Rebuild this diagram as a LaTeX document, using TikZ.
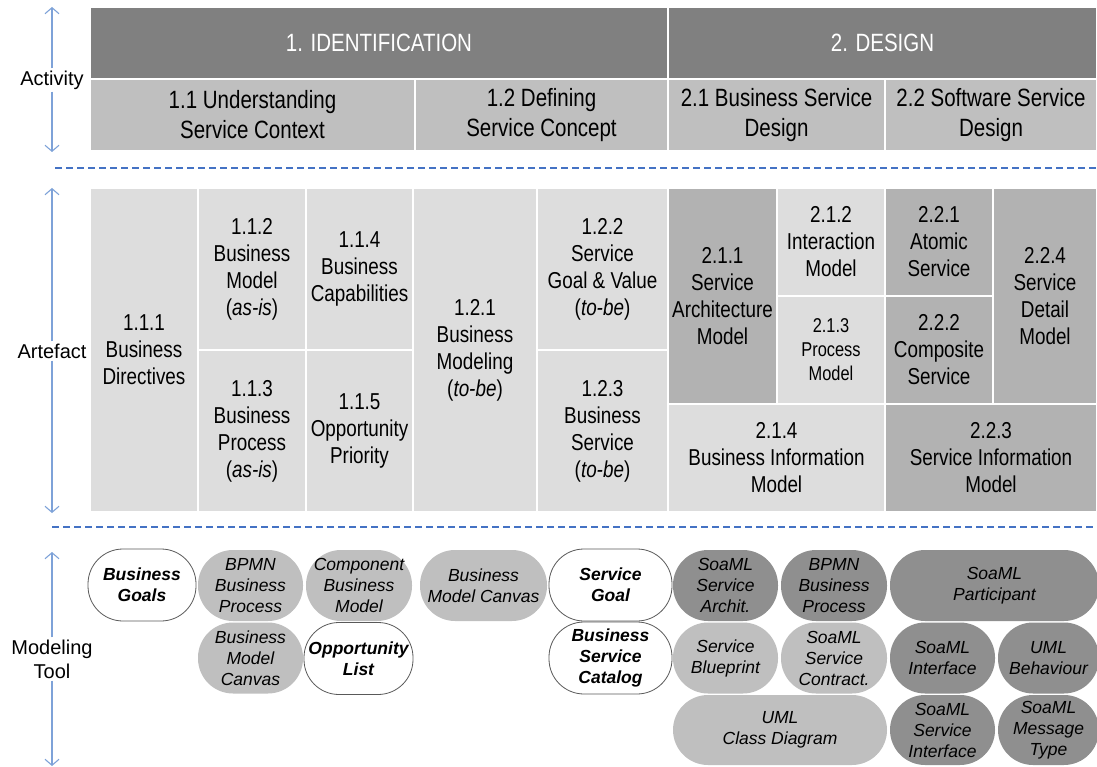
\documentclass[tikz,border=0pt]{standalone}
\usepackage{fontspec}
\setmainfont{Liberation Sans}
\newfontfamily\narrowfont[FakeStretch=0.82]{Liberation Sans}
\usetikzlibrary{arrows.meta}
\definecolor{headdark}{HTML}{808080}
\definecolor{headlight}{HTML}{BFBFBF}
\definecolor{artlight}{HTML}{DDDDDD}
\definecolor{artdark}{HTML}{B2B2B2}
\definecolor{tooldark}{HTML}{8F8F8F}
\definecolor{toollight}{HTML}{BFBFBF}
\definecolor{axisblue}{HTML}{7EA2D8}
\definecolor{sepblue}{HTML}{4472C4}
\tikzset{
  cell/.style={draw=white, line width=1.5pt, inner sep=0pt, align=center,
    font=\narrowfont\fontsize{23}{27}\selectfont},
  head/.style={cell, fill=headdark, text=white, minimum height=72,
    font=\narrowfont\fontsize{25}{30}\selectfont},
  sub/.style={cell, fill=headlight, minimum height=72,
    font=\narrowfont\fontsize{25}{30}\selectfont},
  light/.style={cell, fill=artlight},
  dark/.style={cell, fill=artdark},
  side/.style={inner sep=2pt, align=center, font=\fontsize{20}{24}\selectfont},
  axis/.style={draw=axisblue, line width=1.1pt, -{Straight Barb[length=6pt,width=14pt]}},
  sep/.style={draw=sepblue, line width=2.6pt, dash pattern=on 7pt off 4pt},
  tool/.style={rounded corners=35pt, inner sep=0pt, align=center, minimum height=71,
    font=\itshape\fontsize{17.5}{21}\selectfont},
  toolw/.style={tool, draw=black!65, line width=0.8pt, fill=white,
    font=\bfseries\itshape\fontsize{17.5}{21}\selectfont},
  toolg/.style={tool, fill=toollight},
  toold/.style={tool, fill=tooldark}
}
\begin{document}
\begin{tikzpicture}[x=1pt,y=-1pt]
\useasboundingbox (0,0) rectangle (1097,767);
% Activity
\node[head, minimum width=578] (ident) at (379,43) {1. IDENTIFICATION};
\node[head, minimum width=429] (design) at (882.5,43) {2. DESIGN};
\node[sub, minimum width=325] (a11) at (252.5,115) {1.1 Understanding\\Service Context};
\node[sub, minimum width=253] (a12) at (541.5,115) {1.2 Defining\\Service Concept};
\node[sub, minimum width=217] (a21) at (776.5,115) {2.1 Business Service\\Design};
\node[sub, minimum width=212] (a22) at (991,115) {2.2 Software Service\\Design};
% Artefact
\node[light, minimum width=108, minimum height=324] (r111) at (144,350) {1.1.1\\Business\\Directives};
\node[light, minimum width=108, minimum height=162] (r112) at (252,269) {1.1.2\\Business\\Model\\(\textit{as-is})};
\node[light, minimum width=108, minimum height=162] (r113) at (252,431) {1.1.3\\Business\\Process\\(\textit{as-is})};
\node[light, minimum width=107, minimum height=162] (r114) at (359.5,269) {1.1.4\\Business\\Capabilities};
\node[light, minimum width=107, minimum height=162] (r115) at (359.5,431) {1.1.5\\Opportunity\\Priority};
\node[light, minimum width=124, minimum height=324] (r121) at (475,350) {1.2.1\\Business\\Modeling\\(\textit{to-be})};
\node[light, minimum width=131, minimum height=162] (r122) at (602.5,269) {1.2.2\\Service\\Goal \& Value\\(\textit{to-be})};
\node[light, minimum width=131, minimum height=162] (r123) at (602.5,431) {1.2.3\\Business\\Service\\(\textit{to-be})};
\node[dark, minimum width=109, minimum height=216] (r211) at (722.5,296) {2.1.1\\Service\\Architecture\\Model};
\node[light, minimum width=108, minimum height=108] (r212) at (831,242) {2.1.2\\Interaction\\Model};
\node[light, minimum width=108, minimum height=108, font=\narrowfont\fontsize{20}{24}\selectfont] (r213) at (831,350) {2.1.3\\Process\\Model};
\node[light, minimum width=217, minimum height=108] (r214) at (776.5,458) {2.1.4\\Business Information\\Model};
\node[dark, minimum width=108, minimum height=108] (r221) at (939,242) {2.2.1\\Atomic\\Service};
\node[dark, minimum width=108, minimum height=108] (r222) at (939,350) {2.2.2\\Composite\\Service};
\node[dark, minimum width=212, minimum height=108] (r223) at (991,458) {2.2.3\\Service Information\\Model};
\node[dark, minimum width=104, minimum height=216] (r224) at (1045,296) {2.2.4\\Service\\Detail\\Model};
% Modeling tool
\node[toolw, minimum width=108, minimum height=72] (m1) at (142,585) {Business\\Goals};
\node[toolg, minimum width=105] (m2) at (250.5,585.5) {BPMN\\Business\\Process};
\node[toolg, minimum width=106] (m3) at (359,585.5) {Component\\Business\\Model};
\node[toolg, minimum width=127] (m4) at (483.5,585.5) {Business\\Model Canvas};
\node[toolw, minimum width=123, minimum height=72] (m5) at (610.5,585) {Service\\Goal};
\node[toold, minimum width=105] (m6) at (725.5,585.5) {SoaML\\Service\\Archit.};
\node[toold, minimum width=106] (m7) at (834,585.5) {BPMN\\Business\\Process};
\node[toold, minimum width=209] (m8) at (994.5,585.5) {SoaML\\Participant};
\node[toolg, minimum width=105] (m9) at (250.5,658) {Business\\Model\\Canvas};
\node[toolw, minimum width=109, minimum height=72] (m10) at (358.5,658.5) {Opportunity\\List};
\node[toolw, minimum width=123, minimum height=72] (m11) at (610.5,658) {Business\\Service\\Catalog};
\node[toolg, minimum width=105] (m12) at (725.5,658) {Service\\Blueprint};
\node[toolg, minimum width=106] (m13) at (834,658) {SoaML\\Service\\Contract.};
\node[toold, minimum width=105] (m14) at (942.5,658) {SoaML\\Interface};
\node[toold, minimum width=101] (m15) at (1048.5,658) {UML\\Behaviour};
\node[toolg, minimum width=214, minimum height=70] (m16) at (780,730) {UML\\Class Diagram};
\node[toold, minimum width=105, minimum height=70] (m17) at (942.5,730) {SoaML\\Service\\Interface};
\node[toold, minimum width=101, minimum height=70] (m18) at (1048.5,730) {SoaML\\Message\\Type};
% Separators
\draw[sep] (55,168) -- (1097,168);
\draw[sep] (52,527) -- (1097,527);
% Axes
\node[side] (act) at (52,80) {Activity};
\coordinate (acttop) at (52,7);
\coordinate (actbot) at (52,152);
\draw[axis] (act) -- (acttop);
\draw[axis] (act) -- (actbot);
\node[side] (art) at (52,351) {Artefact};
\coordinate (arttop) at (52,188);
\coordinate (artbot) at (52,513);
\draw[axis] (art) -- (arttop);
\draw[axis] (art) -- (artbot);
\node[side] (mod) at (52,659) {Modeling\\Tool};
\coordinate (modtop) at (52,552);
\coordinate (modbot) at (52,766);
\draw[axis] (mod) -- (modtop);
\draw[axis] (mod) -- (modbot);
\end{tikzpicture}
\end{document}
